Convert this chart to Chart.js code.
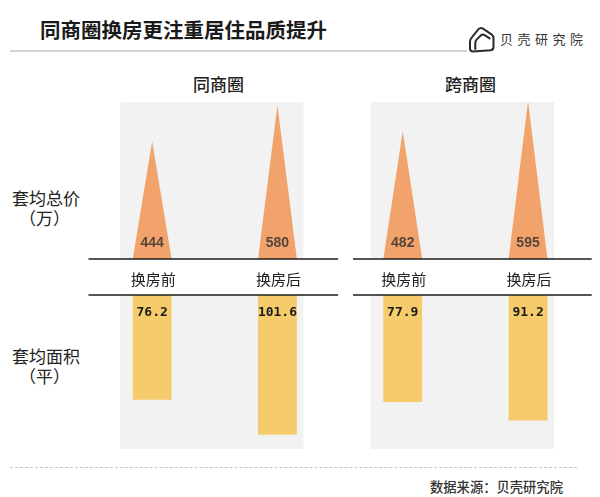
<!DOCTYPE html>
<html>
<head>
<meta charset="utf-8">
<script src="https://cdn.jsdelivr.net/npm/chart.js@4/dist/chart.umd.min.js"></script>
<style>
  html, body { margin: 0; padding: 0; background: #fff; }
  body { width: 600px; height: 497px; position: relative; overflow: hidden;
         font-family: "Noto Sans CJK SC", "Noto Sans", sans-serif; color: #222; }
  canvas { position: absolute; left: 0; top: 0; }
  .t { position: absolute; white-space: nowrap; line-height: 1; }
</style>
</head>
<body>
<div class="t" id="title" style="left:40px; top:19px; font-size:20.5px; font-weight:700; color:#1a1a1a;">同商圈换房更注重居住品质提升</div>
<div style="position:absolute; left:10px; top:50px; width:457px; height:2px; background:#d4d4d4;"></div>
<svg style="position:absolute; left:465px; top:24px;" width="35" height="30" viewBox="0 0 35 30">
  <path d="M8 27.5 Q5 27.5 5 24.5 L5 17.5 Q5 15.5 6.5 13.8 L13.5 5.2 Q15.5 3 18 4.6 L26.5 10.3 Q28.5 11.8 28.5 14.3 L28.5 23 Q28.5 26 25.5 26.3 Z" fill="none" stroke="#2b2b2b" stroke-width="2" stroke-linejoin="round"/>
  <path d="M10.3 25 L10.3 19 Q10.3 17 11.8 15.4 L16 11.3 Q17.6 9.8 19.6 11.1 L24.6 14.4" fill="none" stroke="#2b2b2b" stroke-width="2" stroke-linecap="round" stroke-linejoin="round"/>
</svg>
<div class="t" id="logo" style="left:500px; top:31.5px; font-size:13px; letter-spacing:4.5px; color:#333;">贝壳研究院</div>

<div class="t" style="left:193px; top:74.5px; font-size:17px; font-weight:500;">同商圈</div>
<div class="t" style="left:445px; top:74.5px; font-size:17px; font-weight:500;">跨商圈</div>

<div class="t" style="left:12px; top:188.5px; font-size:17px;">套均总价</div>
<div class="t" style="left:19px; top:208.5px; font-size:17px;">（万）</div>
<div class="t" style="left:12px; top:346.5px; font-size:17px;">套均面积</div>
<div class="t" style="left:19px; top:366.5px; font-size:17px;">（平）</div>

<div style="position:absolute; left:10px; top:467px; width:567px; height:0; border-top:1.5px dashed #c4c4c4;"></div>
<div class="t" style="left:430px; top:479.5px; font-size:13.3px; font-weight:500; color:#333;">数据来源：贝壳研究院</div>

<canvas id="topChart" width="600" height="497"></canvas>
<canvas id="bottomChart" width="600" height="497"></canvas>

<script>
// ---- data ----
const categories = ['换房前', '换房后', '换房前', '换房后'];
const panelNames = ['同商圈', '跨商圈'];
const totalPrice = [444, 580, 482, 595];      // 套均总价（万）
const avgArea = [76.2, 101.6, 77.9, 91.2];    // 套均面积（平）

// ---- triangle bar type ----
class TriangleElement extends Chart.BarElement {
  draw(ctx) {
    const {x, y, base, width} = this.getProps(['x', 'y', 'base', 'width']);
    ctx.save();
    ctx.fillStyle = this.options.backgroundColor;
    ctx.beginPath();
    ctx.moveTo(x - width / 2, base);
    ctx.lineTo(x, y);
    ctx.lineTo(x + width / 2, base);
    ctx.closePath();
    ctx.fill();
    ctx.restore();
  }
}
TriangleElement.id = 'triangleEl';
class TriangleController extends Chart.BarController {}
TriangleController.id = 'triangle';
TriangleController.defaults = { dataElementType: 'triangleEl' };
Chart.register(TriangleElement, TriangleController);

// ---- plugins ----
const panelBg = {
  id: 'panelBg',
  beforeDatasetsDraw(chart, args, opts) {
    const {ctx, chartArea: a, scales: {x}} = chart;
    ctx.save();
    ctx.fillStyle = '#F2F2F2';
    for (let p = 0; p < panelNames.length; p++) {
      const l = x.getPixelForValue(2 * p) - 32;
      const r = x.getPixelForValue(2 * p + 1) + 26;
      const t = a.top + (opts.topInset || 0);
      ctx.fillRect(l, t, r - l, a.bottom - t);
    }
    ctx.restore();
  }
};
const dividers = {
  id: 'dividers',
  afterDraw(chart, args, opts) {
    const {ctx, chartArea: a, scales: {x}} = chart;
    const y = opts.atTop ? a.top : a.bottom;
    const mid = (x.getPixelForValue(1) + x.getPixelForValue(2)) / 2;
    ctx.save();
    ctx.strokeStyle = '#1e1e1e';
    ctx.lineWidth = 1.5;
    ctx.beginPath();
    ctx.moveTo(a.left - 1, y); ctx.lineTo(mid - 2, y);
    ctx.moveTo(mid + 13, y); ctx.lineTo(a.right + 1, y);
    ctx.stroke();
    if (opts.catLabels) {
      ctx.fillStyle = '#222';
      ctx.font = '15px "Noto Sans CJK SC"';
      ctx.textAlign = 'center';
      ctx.textBaseline = 'middle';
      categories.forEach((c, i) => ctx.fillText(c, x.getPixelForValue(i) + 1, y + 20));
    }
    ctx.restore();
  }
};
const valueLabels = {
  id: 'valueLabels',
  afterDatasetsDraw(chart, args, opts) {
    const {ctx} = chart;
    const meta = chart.getDatasetMeta(0);
    const vals = chart.data.datasets[0].data;
    ctx.save();
    ctx.font = opts.font;
    ctx.fillStyle = opts.color;
    ctx.textAlign = 'center';
    ctx.textBaseline = 'middle';
    meta.data.forEach((el, i) => {
      ctx.fillText(opts.format(vals[i]), el.x, el.base + opts.dy);
    });
    ctx.restore();
  }
};

const common = {
  responsive: false,
  animation: false,
  events: [],
  plugins: { legend: { display: false }, tooltip: { enabled: false } }
};

new Chart(document.getElementById('topChart'), {
  type: 'triangle',
  data: {
    labels: categories,
    datasets: [{
      data: totalPrice,
      backgroundColor: '#F2A36C',
      categoryPercentage: 1,
      barPercentage: 0.31
    }]
  },
  options: {
    ...common,
    layout: { padding: { left: 89.5, right: 9.3, top: 100, bottom: 238 } },
    scales: {
      x: { type: 'category', offset: true, display: false },
      y: { type: 'linear', min: 0, max: 600, display: false }
    },
    plugins: {
      ...common.plugins,
      panelBg: { topInset: 2 },
      dividers: { atTop: false, catLabels: true },
      valueLabels: { font: '600 14px "Liberation Sans"', color: '#55463b', dy: -16, format: v => String(v) }
    }
  },
  plugins: [panelBg, dividers, valueLabels]
});

new Chart(document.getElementById('bottomChart'), {
  type: 'bar',
  data: {
    labels: categories,
    datasets: [{
      data: avgArea,
      backgroundColor: '#F5CB6B',
      categoryPercentage: 1,
      barPercentage: 0.31
    }]
  },
  options: {
    ...common,
    layout: { padding: { left: 89.5, right: 9.3, top: 295, bottom: 48 } },
    scales: {
      x: { type: 'category', offset: true, display: false },
      y: { type: 'linear', min: 0, max: 112, reverse: true, display: false }
    },
    plugins: {
      ...common.plugins,
      panelBg: { topInset: 0 },
      dividers: { atTop: true, catLabels: false },
      valueLabels: { font: 'bold 13px "DejaVu Sans Mono"', color: '#1a1a1a', dy: 18, format: v => v.toFixed(1) }
    }
  },
  plugins: [panelBg, dividers, valueLabels]
});
</script>
</body>
</html>
